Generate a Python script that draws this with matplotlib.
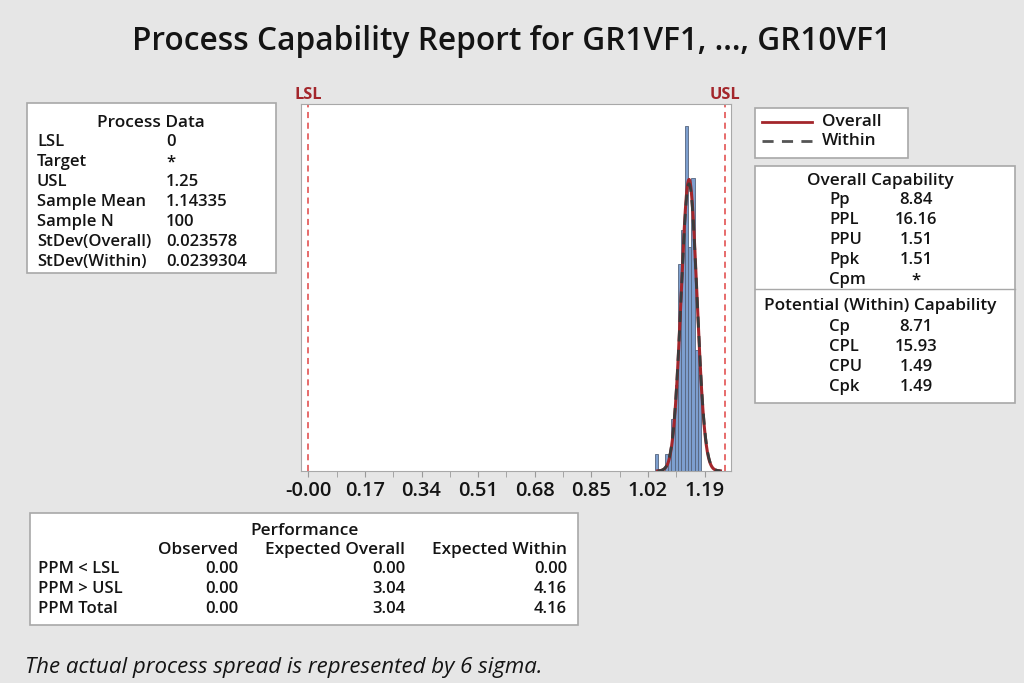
"""Process capability report for GR1VF1 ... GR10VF1 (Minitab style)."""

import matplotlib.pyplot as plt
import numpy as np
from matplotlib.patches import Rectangle
from matplotlib.ticker import AutoMinorLocator

W, H = 1024, 683
BG = "#e6e6e6"
FONT = "Open Sans"
TXT = "#141414"
WEIGHT = "semibold"

# spec limits and process statistics
lsl, usl = 0.0, 1.25
sample_mean = 1.14335
sample_n = 100
sd_overall = 0.023578
sd_within = 0.0239304

# histogram (bin left edges, counts)
bin_width = 0.01
bin_lefts = [1.04, 1.05, 1.06, 1.07, 1.08, 1.09, 1.10, 1.11, 1.12, 1.13, 1.14, 1.15, 1.16, 1.17]
counts = [1, 0, 0, 1, 1, 3, 5, 12, 14, 20, 13, 17, 7, 6]

tick_values = [0.0, 0.17, 0.34, 0.51, 0.68, 0.85, 1.02, 1.19]
tick_labels = ["-0.00", "0.17", "0.34", "0.51", "0.68", "0.85", "1.02", "1.19"]

process_labels = ["LSL", "Target", "USL", "Sample Mean", "Sample N", "StDev(Overall)", "StDev(Within)"]
process_values = ["0", "*", "1.25", "1.14335", "100", "0.023578", "0.0239304"]

overall_labels = ["Pp", "PPL", "PPU", "Ppk", "Cpm"]
overall_values = ["8.84", "16.16", "1.51", "1.51", "*"]
within_labels = ["Cp", "CPL", "CPU", "Cpk"]
within_values = ["8.71", "15.93", "1.49", "1.49"]

perf_columns = ["Observed", "Expected Overall", "Expected Within"]
perf_rows = ["PPM < LSL", "PPM > USL", "PPM Total"]
perf_observed = ["0.00", "0.00", "0.00"]
perf_exp_overall = ["0.00", "3.04", "3.04"]
perf_exp_within = ["0.00", "4.16", "4.16"]

ROW = 12
HEAD = 12.4


def normal_curve(x, mu, sigma):
    return sample_n * bin_width * np.exp(-0.5 * ((x - mu) / sigma) ** 2) / (sigma * np.sqrt(2 * np.pi))


def box(ax, x0, y0, x1, y1):
    ax.add_patch(Rectangle((x0, y0), x1 - x0, y1 - y0, facecolor="white",
                           edgecolor="#a8a8a8", lw=1.2, zorder=1))


def txt(ax, x, y, s, ha="left", size=ROW, **kw):
    ax.text(x, y, s, ha=ha, va="center", fontsize=size, family=FONT,
            fontweight=WEIGHT, color=TXT, zorder=2, **kw)


plt.rcParams["font.family"] = [FONT, "DejaVu Sans"]
fig = plt.figure(figsize=(W / 100, H / 100), dpi=100, facecolor=BG)

# full-figure canvas in pixel coordinates for tables and text
cv = fig.add_axes([0, 0, 1, 1], zorder=0)
cv.set_xlim(0, W)
cv.set_ylim(H, 0)
cv.axis("off")

txt(cv, 512, 42, "Process Capability Report for GR1VF1, ..., GR10VF1", ha="center", size=22.8)

# process data
box(cv, 27, 103, 276, 273)
txt(cv, 151, 123, "Process Data", ha="center", size=HEAD)
for i, (lab, val) in enumerate(zip(process_labels, process_values)):
    y = 142 + i * 20
    txt(cv, 37, y, lab)
    txt(cv, 166, y, val)

# legend
box(cv, 755, 108, 908, 158)
cv.plot([762, 812], [122, 122], color="#a3262b", lw=2, zorder=2)
cv.plot([762, 812], [141, 141], color="#555555", lw=2, ls=(0, (4, 3)), zorder=2)
txt(cv, 822, 122, "Overall", size=HEAD)
txt(cv, 822, 141, "Within", size=HEAD)

# capability
box(cv, 755, 166, 1015, 403)
cv.plot([755, 1015], [289, 289], color="#a8a8a8", lw=1.0, zorder=2)
txt(cv, 880, 181, "Overall Capability", ha="center", size=HEAD)
for i, (lab, val) in enumerate(zip(overall_labels, overall_values)):
    y = 200 + i * 20
    txt(cv, 829, y, lab)
    txt(cv, 916, y, val, ha="center")
txt(cv, 880, 306, "Potential (Within) Capability", ha="center", size=HEAD)
for i, (lab, val) in enumerate(zip(within_labels, within_values)):
    y = 327 + i * 20
    txt(cv, 829, y, lab)
    txt(cv, 916, y, val, ha="center")

# performance
box(cv, 30, 513, 578, 625)
txt(cv, 305, 531, "Performance", ha="center", size=HEAD)
col_right = [238, 405, 567]
for x, name in zip(col_right, perf_columns):
    txt(cv, x, 550, name, ha="right", size=HEAD)
for i, row in enumerate(perf_rows):
    y = 569 + i * 20
    txt(cv, 38, y, row)
    for x, vals in zip(col_right, [perf_observed, perf_exp_overall, perf_exp_within]):
        txt(cv, x, y, vals[i], ha="right")

cv.text(25, 667, "The actual process spread is represented by 6 sigma.", ha="left",
        va="center", fontsize=16, style="italic", family=FONT, color=TXT)

# histogram panel
left, right, top, bottom = 301, 731, 104, 471
ax = fig.add_axes([left / W, 1 - bottom / H, (right - left) / W, (bottom - top) / H], zorder=1)
ax.set_facecolor("white")
ax.bar(bin_lefts, counts, width=bin_width, align="edge", color="#7d9fcf",
       edgecolor="#56657e", lw=0.6, zorder=2)

xs = np.linspace(sample_mean - 4 * sd_overall, sample_mean + 4 * sd_overall, 400)
ax.plot(xs, normal_curve(xs, sample_mean, sd_overall), color="#a3262b", lw=2.2, zorder=3)
ax.plot(xs, normal_curve(xs, sample_mean, sd_within), color="#3c3c3c", lw=2.0,
        ls=(0, (4, 3)), zorder=4)

for spec, name in [(lsl, "LSL"), (usl, "USL")]:
    ax.axvline(spec, color="#e04444", lw=1.1, ls=(0, (4, 3)), zorder=1)
    ax.annotate(name, xy=(spec, 1.0), xycoords=("data", "axes fraction"),
                xytext=(0, 1), textcoords="offset points", ha="center", va="bottom",
                fontsize=11.8, fontweight="bold", family=FONT, color="#a3262b")

px_per_unit = 333.0
ax.set_xlim(-(308.3 - left) / px_per_unit, (right - 308.3) / px_per_unit)
ax.set_ylim(0, 21.3)
ax.set_yticks([])
ax.set_xticks(tick_values, tick_labels)
ax.xaxis.set_minor_locator(AutoMinorLocator(2))
ax.tick_params(axis="x", which="both", direction="out", length=4, color="#9a9a9a",
               labelsize=14.5, labelcolor=TXT, pad=3)
for lab in ax.get_xticklabels():
    lab.set_fontweight(WEIGHT)
for s in ax.spines.values():
    s.set_color("#a8a8a8")

fig.savefig("out.png", dpi=100, facecolor=BG)
